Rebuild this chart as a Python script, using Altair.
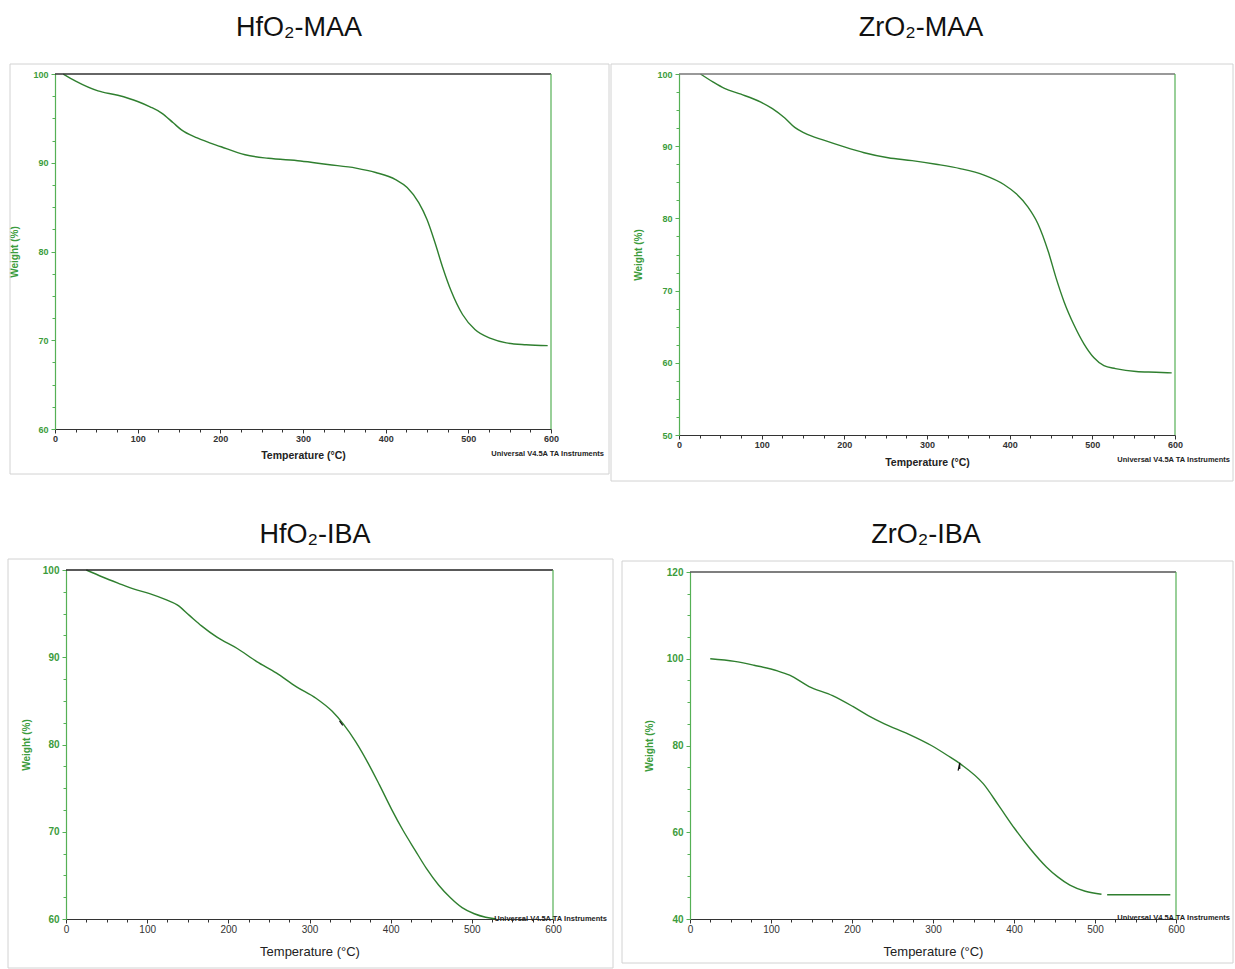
import altair as alt
import pandas as pd

# ---------------- data ----------------
hfo2_maa_T = [10, 25, 52, 76, 100, 115, 129, 143, 153, 172, 201, 230, 258, 297, 330,
              364, 388, 412, 426, 440, 450, 460, 469, 479, 493, 508, 527, 546, 570, 596]
hfo2_maa_W = [100, 99.2, 98.1, 97.6, 96.9, 96.3, 95.6, 94.5, 93.7, 92.8, 91.8, 90.9, 90.5, 90.2, 89.8,
              89.4, 88.9, 88.1, 87.2, 85.5, 83.6, 80.9, 78.2, 75.6, 72.9, 71.2, 70.2, 69.7, 69.5, 69.4]

zro2_maa_T = [26, 41, 55, 75, 99, 113, 128, 140, 152, 176, 200, 224, 253, 282, 311, 340,
              369, 393, 408, 422, 434, 447, 456, 466, 478, 490, 502, 514, 528, 553, 577, 596]
zro2_maa_W = [100, 98.9, 98.0, 97.2, 96.1, 95.2, 93.9, 92.6, 91.8, 90.8, 89.9, 89.1, 88.4, 88.0, 87.5, 86.9,
              86.0, 84.7, 83.4, 81.6, 79.3, 75.3, 71.8, 68.4, 65.2, 62.6, 60.7, 59.6, 59.2, 58.8, 58.7, 58.6]

hfo2_iba_T = [25, 45, 64, 84, 103, 123, 137, 152, 167, 186, 211, 235, 259, 284, 308,
              328, 342, 357, 372, 386, 401, 415, 430, 444, 459, 474, 488, 503, 517, 530]
hfo2_iba_W = [100, 99.2, 98.5, 97.8, 97.3, 96.6, 96.0, 94.8, 93.6, 92.3, 91.0, 89.5, 88.2, 86.6, 85.3,
              83.8, 82.3, 80.3, 77.9, 75.4, 72.6, 70.2, 67.9, 65.8, 63.9, 62.4, 61.3, 60.6, 60.2, 60.0]

zro2_iba_T = [25, 55, 79, 108, 123, 147, 176, 201, 220, 240, 269, 298, 318, 335, 362, 381,
              401, 420, 440, 454, 469, 488, 508, 515, 593]
zro2_iba_W = [100, 99.4, 98.5, 97.2, 96.2, 93.6, 91.5, 89.0, 86.9, 85.0, 82.7, 80.0, 77.7, 75.6, 71.2, 66.2,
              60.8, 56.2, 52.0, 49.7, 47.8, 46.4, 45.7, 45.6, 45.6]
zro2_iba_seg = [1] * 23 + [2, 2]

# small black cursor marks left on two curves
hfo2_iba_mark_T = [337, 341]
hfo2_iba_mark_W = [82.7, 82.2]
zro2_iba_mark_T = [331, 333, 333]
zro2_iba_mark_W = [74.2, 76.0, 74.6]

titles = ["HfO\u2082-MAA", "ZrO\u2082-MAA", "HfO\u2082-IBA", "ZrO\u2082-IBA"]
x_ticks = [0, 100, 200, 300, 400, 500, 600]
y_ticks_tl = [60, 70, 80, 90, 100]
y_ticks_tr = [50, 60, 70, 80, 90, 100]
y_ticks_bl = [60, 70, 80, 90, 100]
y_ticks_br = [40, 60, 80, 100, 120]
x_title = "Temperature (\u00b0C)"
y_title = "Weight (%)"
credit = "Universal V4.5A TA Instruments"

# ---------------- layout / style ----------------
W, H = 1235, 969
FONT = "Liberation Sans"
GREEN_AX = "#55b055"
GREEN_LBL = "#3c9c3c"
CURVE = "#2f7f2f"
DARK = "#333333"

panels_geom = [
    dict(x0=55, x1=551, yb=429, yt=74, ydom=[60, 100], yt_vals=y_ticks_tl, ymin=2.5,
         lab=9, lw="bold", xt=10.5, xtw="bold", ytp=13, xtp=7, topc="#333333",
         title_xy=(299, 28), frame=(10, 64, 609, 474), credit_xy=(604, 454)),
    dict(x0=679, x1=1175, yb=435, yt=74, ydom=[50, 100], yt_vals=y_ticks_tr, ymin=2.5,
         lab=9, lw="bold", xt=10.5, xtw="bold", ytp=13, xtp=8, topc="#777777",
         title_xy=(921, 28), frame=(611, 64, 1233, 481), credit_xy=(1230, 460)),
    dict(x0=66, x1=553, yb=919, yt=570, ydom=[60, 100], yt_vals=y_ticks_bl, ymin=2.5,
         lab=10, lw="normal", xt=13, xtw="normal", ytp=11, xtp=11, topc="#222222",
         title_xy=(315, 535), frame=(8, 559, 613, 968), credit_xy=(607, 919)),
    dict(x0=690, x1=1176, yb=919, yt=572, ydom=[40, 120], yt_vals=y_ticks_br, ymin=5,
         lab=10, lw="normal", xt=13, xtw="normal", ytp=12, xtp=11, topc="#555555",
         title_xy=(926, 535), frame=(622, 561, 1233, 963), credit_xy=(1230, 918)),
]

series = [
    (hfo2_maa_T, hfo2_maa_W, [1] * len(hfo2_maa_T), None),
    (zro2_maa_T, zro2_maa_W, [1] * len(zro2_maa_T), None),
    (hfo2_iba_T, hfo2_iba_W, [1] * len(hfo2_iba_T), (hfo2_iba_mark_T, hfo2_iba_mark_W)),
    (zro2_iba_T, zro2_iba_W, zro2_iba_seg, (zro2_iba_mark_T, zro2_iba_mark_W)),
]

layers = []
for (T, Wt, seg, mk), g, ttl in zip(series, panels_geom, titles):
    df = pd.DataFrame({"T": T, "W": Wt, "seg": seg})
    xs = alt.Scale(domain=[0, 600], range=[g["x0"], g["x1"]], nice=False, zero=False)
    ys = alt.Scale(domain=g["ydom"], range=[g["yb"], g["yt"]], nice=False, zero=False)
    xaxis = alt.Axis(orient="bottom", offset=g["yb"] - H, values=x_ticks, format="d",
                     title=x_title, grid=False, labelFlush=False, labelOverlap=False,
                     domainColor=DARK, domainWidth=1.2, tickColor=DARK, tickSize=4,
                     labelColor=DARK, labelFont=FONT, labelFontSize=g["lab"],
                     labelFontWeight=g["lw"], labelPadding=1,
                     titleColor="#222222", titleFont=FONT, titleFontSize=g["xt"],
                     titleFontWeight=g["xtw"], titlePadding=g["xtp"])
    yaxis = alt.Axis(orient="left", offset=-g["x0"], values=g["yt_vals"], format="d",
                     title=y_title, grid=False, labelFlush=False,
                     domainColor=GREEN_AX, domainWidth=1.2, tickColor=GREEN_AX, tickSize=4,
                     labelColor=GREEN_LBL, labelFont=FONT, labelFontSize=g["lab"],
                     labelFontWeight="bold", labelPadding=3,
                     titleColor=GREEN_LBL, titleFont=FONT, titleFontSize=10,
                     titleFontWeight="bold", titlePadding=g["ytp"])
    line = alt.Chart(df).mark_line(color=CURVE, strokeWidth=1.4, interpolate="monotone").encode(
        x=alt.X("T:Q", scale=xs, axis=xaxis),
        y=alt.Y("W:Q", scale=ys, axis=yaxis),
        detail="seg:N",
    )
    one = pd.DataFrame({"k": [0]})
    top = alt.Chart(one).mark_rule(color=g["topc"], strokeWidth=1.3).encode(
        x=alt.datum(0), x2=alt.datum(600), y=alt.datum(g["ydom"][1]))
    right = alt.Chart(one).mark_rule(color=GREEN_AX, strokeWidth=1.2).encode(
        x=alt.datum(600), y=alt.datum(g["ydom"][0]), y2=alt.datum(g["ydom"][1]))
    parts = [line, top, right]
    if mk is not None:
        mdf = pd.DataFrame({"T": mk[0], "W": mk[1], "o": list(range(len(mk[0])))})
        parts.append(alt.Chart(mdf).mark_line(color="#111111", strokeWidth=1.2).encode(
            x="T:Q", y="W:Q", order="o:Q"))
    layers.append(alt.layer(*parts))

    # minor ticks on their own (identical) scales
    xmin_vals = [v for v in range(0, 601, 25) if v % 100]
    lo, hi = g["ydom"]
    ymin_vals = []
    v = lo
    while v <= hi + 1e-9:
        ymin_vals.append(v)
        v += g["ymin"]
    xs2 = alt.Scale(domain=[0, 600], range=[g["x0"], g["x1"]], nice=False, zero=False)
    ys2 = alt.Scale(domain=g["ydom"], range=[g["yb"], g["yt"]], nice=False, zero=False)
    minor = alt.Chart(df).mark_point(opacity=0).encode(
        x=alt.X("T:Q", scale=xs2, axis=alt.Axis(orient="bottom", offset=g["yb"] - H,
                values=xmin_vals, labels=False, domain=False, grid=False, title=None,
                tickSize=3, tickColor=DARK)),
        y=alt.Y("W:Q", scale=ys2, axis=alt.Axis(orient="left", offset=-g["x0"],
                values=ymin_vals, labels=False, domain=False, grid=False, title=None,
                tickSize=3, tickColor=GREEN_AX)),
    )
    layers.append(minor)

    # frame around each panel image
    fx0, fy0, fx1, fy1 = g["frame"]
    frame = alt.Chart(one).mark_rect(fill="transparent", stroke="#d2d2d2", strokeWidth=1).encode(
        x=alt.value(fx0), x2=alt.value(fx1), y=alt.value(fy0), y2=alt.value(fy1))
    layers.append(frame)

    # panel title
    tx, ty = g["title_xy"]
    tdf = pd.DataFrame({"label": [ttl]})
    layers.append(alt.Chart(tdf).mark_text(font=FONT, fontSize=27, color="#111111",
                                            align="center", baseline="middle").encode(
        text="label:N", x=alt.value(tx), y=alt.value(ty)))
    cx, cy = g["credit_xy"]
    cdf = pd.DataFrame({"label": [credit]})
    layers.append(alt.Chart(cdf).mark_text(font=FONT, fontSize=7.5, fontWeight="bold",
                                            color="#222222", align="right",
                                            baseline="middle").encode(
        text="label:N", x=alt.value(cx), y=alt.value(cy)))

chart = alt.layer(*layers).resolve_scale(
    x="independent", y="independent"
).resolve_axis(
    x="independent", y="independent"
).properties(
    width=W, height=H, padding=0, autosize=alt.AutoSizeParams(type="none"),
    background="white",
).configure_view(strokeWidth=0)

chart.save("out.html", embed_options={"renderer": "svg", "actions": False})
